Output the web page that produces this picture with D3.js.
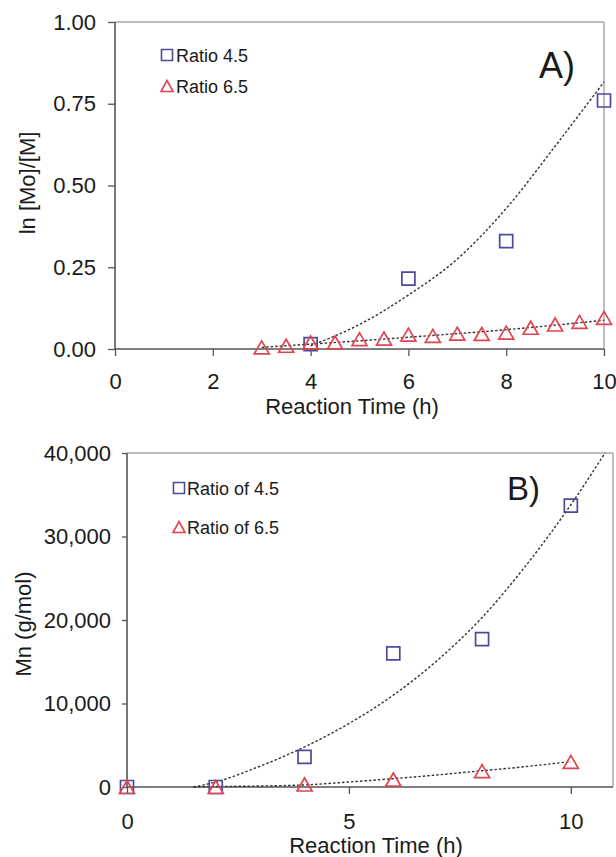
<!DOCTYPE html>
<html>
<head>
<meta charset="utf-8">
<script src="https://cdn.jsdelivr.net/npm/d3@7"></script>
<style>
  html, body { margin: 0; padding: 0; background: #fff; }
  svg { display: block; }
  text { font-family: Arial, "Liberation Sans", sans-serif; fill: #1a1a1a; }
</style>
</head>
<body>
<script>
// ---------- Panel A data ----------
const aSquareTime = [4, 6, 8, 10];
const aSquareVals = [0.015, 0.215, 0.33, 0.76];
const aTriTime = [3, 3.5, 4, 4.5, 5, 5.5, 6, 6.5, 7, 7.5, 8, 8.5, 9, 9.5, 10];
const aTriVals = [0.005, 0.01, 0.02, 0.02, 0.03, 0.032, 0.044, 0.04, 0.047, 0.046, 0.05, 0.065, 0.075, 0.083, 0.095];
const aSquareFitTime = [4, 5, 6, 7, 8, 9, 10];
const aSquareFitVals = [0.01, 0.075, 0.165, 0.275, 0.43, 0.62, 0.817];
const aTriFitTime = [3, 4, 5, 6, 7, 8, 9, 10];
const aTriFitVals = [0.005, 0.015, 0.025, 0.036, 0.047, 0.059, 0.073, 0.088];
const aXTicks = [0, 2, 4, 6, 8, 10];
const aYTicks = [0, 0.25, 0.5, 0.75, 1.0];
const aLegend = ["Ratio 4.5", "Ratio 6.5"];

// ---------- Panel B data ----------
const bSquareTime = [0, 2, 4, 6, 8, 10];
const bSquareVals = [0, 0, 3600, 16000, 17700, 33700];
const bTriTime = [0, 2, 4, 6, 8, 10];
const bTriVals = [0, 0, 300, 900, 1900, 3000];
const bSquareFitTime = [1.5, 2, 3, 4, 5, 6, 7, 8, 9, 10, 10.77];
const bSquareFitVals = [0, 600, 2500, 4800, 7600, 11000, 15200, 20300, 26600, 33800, 40000];
const bTriFitTime = [1.5, 2, 3, 4, 5, 6, 7, 8, 9, 10];
const bTriFitVals = [0, 50, 120, 250, 600, 1000, 1450, 1950, 2450, 3050];
const bXTicks = [0, 5, 10];
const bYTicks = [0, 10000, 20000, 30000, 40000];
const bXMax = 10.95;
const bLegend = ["Ratio of 4.5", "Ratio of 6.5"];

const BLUE = "#4b4a9c";
const RED = "#e0444f";

const W = 616, H = 857;
const svg = d3.select("body").append("svg").attr("width", W).attr("height", H);

function squarePath(s) { const h = s / 2; return `M${-h},${-h}H${h}V${h}H${-h}Z`; }
function triPath(w, h) { return `M0,${-h / 2}L${w / 2},${h / 2}L${-w / 2},${h / 2}Z`; }

function panel(cfg) {
  const g = svg.append("g");
  const x = d3.scaleLinear().domain(cfg.xDomain).range([cfg.left, cfg.right]);
  const y = d3.scaleLinear().domain(cfg.yDomain).range([cfg.bottom, cfg.top]);

  // frame (top and right borders light grey)
  g.append("line").attr("x1", cfg.left).attr("x2", cfg.right).attr("y1", cfg.top).attr("y2", cfg.top)
    .attr("stroke", "#a8a8a8").attr("stroke-width", 1.5);
  g.append("line").attr("x1", cfg.right).attr("x2", cfg.right).attr("y1", cfg.top).attr("y2", cfg.bottom)
    .attr("stroke", "#a8a8a8").attr("stroke-width", 1.5);

  // axes
  const yAxis = d3.axisLeft(y).tickValues(cfg.yTicks).tickFormat(cfg.yFmt)
    .tickSize(cfg.yTickSize).tickPadding(cfg.yPad);
  const gy = g.append("g").attr("transform", `translate(${cfg.left},0)`).call(yAxis);
  const xAxis = d3.axisBottom(x).tickValues(cfg.xTicks).tickFormat(d3.format("d"))
    .tickSize(7).tickPadding(cfg.xPad);
  const gx = g.append("g").attr("transform", `translate(0,${cfg.bottom})`).call(xAxis);
  [gx, gy].forEach(a => {
    a.select(".domain").attr("stroke", "#555").attr("stroke-width", 1.6);
    a.selectAll(".tick line").attr("stroke", "#555").attr("stroke-width", 1.3);
    a.selectAll(".tick text").attr("font-size", 22).attr("fill", "#1a1a1a")
      .style("font-family", "Arial, 'Liberation Sans', sans-serif");
  });
  gy.select(".domain").attr("d", `M0,${cfg.bottom}V${cfg.top}`);
  gx.select(".domain").attr("d", `M${cfg.left},0H${cfg.right}`);

  // trend lines (dotted)
  const line = d3.line().x(d => x(d[0])).y(d => y(d[1])).curve(d3.curveMonotoneX);
  [[cfg.sqFitT, cfg.sqFitV], [cfg.trFitT, cfg.trFitV]].forEach(([t, v]) => {
    g.append("path").attr("d", line(t.map((d, i) => [d, v[i]])))
      .attr("fill", "none").attr("stroke", "#333").attr("stroke-width", 1.4)
      .attr("stroke-dasharray", "2.5,2");
  });

  // markers
  g.selectAll(null).data(cfg.sqT.map((d, i) => [d, cfg.sqV[i]])).join("path")
    .attr("d", squarePath(13)).attr("transform", d => `translate(${x(d[0])},${y(d[1])})`)
    .attr("fill", "none").attr("stroke", BLUE).attr("stroke-width", 1.7);
  g.selectAll(null).data(cfg.trT.map((d, i) => [d, cfg.trV[i]])).join("path")
    .attr("d", triPath(15, 13)).attr("transform", d => `translate(${x(d[0])},${y(d[1])})`)
    .attr("fill", "none").attr("stroke", RED).attr("stroke-width", 1.7);

  // legend
  g.append("path").attr("d", squarePath(11)).attr("transform", `translate(${cfg.legX},${cfg.legY1})`)
    .attr("fill", "none").attr("stroke", BLUE).attr("stroke-width", 1.6);
  g.append("path").attr("d", triPath(12, 11)).attr("transform", `translate(${cfg.legX},${cfg.legY2})`)
    .attr("fill", "none").attr("stroke", RED).attr("stroke-width", 1.6);
  g.append("text").attr("x", cfg.legTX).attr("y", cfg.legY1 + 6.5).attr("font-size", 18).text(cfg.legend[0]);
  g.append("text").attr("x", cfg.legTX).attr("y", cfg.legY2 + 6.5).attr("font-size", 18).text(cfg.legend[1]);

  // panel letter
  g.append("text").attr("x", cfg.letX).attr("y", cfg.letY).attr("font-size", cfg.letSize).text(cfg.letter);

  // axis titles
  g.append("text").attr("x", cfg.xTitleX).attr("y", cfg.xTitleY).attr("text-anchor", "middle")
    .attr("font-size", 22).text("Reaction Time (h)");
  g.append("text").attr("transform", `translate(${cfg.yTitleX},${cfg.yTitleY}) rotate(-90)`)
    .attr("text-anchor", "middle").attr("font-size", 22).text(cfg.yTitle);
}

panel({
  xDomain: [0, 10], yDomain: [0, 1], left: 115, right: 604, top: 22, bottom: 349,
  xTicks: aXTicks, yTicks: aYTicks, yFmt: d3.format(".2f"), yTickSize: 7, yPad: 12, xPad: 17,
  sqT: aSquareTime, sqV: aSquareVals, trT: aTriTime, trV: aTriVals,
  sqFitT: aSquareFitTime, sqFitV: aSquareFitVals, trFitT: aTriFitTime, trFitV: aTriFitVals,
  legend: aLegend, legX: 167, legTX: 176, legY1: 55, legY2: 86,
  letter: "A)", letX: 539, letY: 78, letSize: 36,
  xTitleX: 352, xTitleY: 414, yTitle: "ln [Mo]/[M]", yTitleX: 35, yTitleY: 183
});

panel({
  xDomain: [0, bXMax], yDomain: [0, 40000], left: 127, right: 613, top: 453, bottom: 787,
  xTicks: bXTicks, yTicks: bYTicks, yFmt: d3.format(","), yTickSize: 5, yPad: 11, xPad: 19,
  sqT: bSquareTime, sqV: bSquareVals, trT: bTriTime, trV: bTriVals,
  sqFitT: bSquareFitTime, sqFitV: bSquareFitVals, trFitT: bTriFitTime, trFitV: bTriFitVals,
  legend: bLegend, legX: 179, legTX: 187, legY1: 488, legY2: 527,
  letter: "B)", letX: 507, letY: 500, letSize: 33,
  xTitleX: 376, xTitleY: 853, yTitle: "Mn (g/mol)", yTitleX: 31, yTitleY: 624
});
</script>
</body>
</html>
